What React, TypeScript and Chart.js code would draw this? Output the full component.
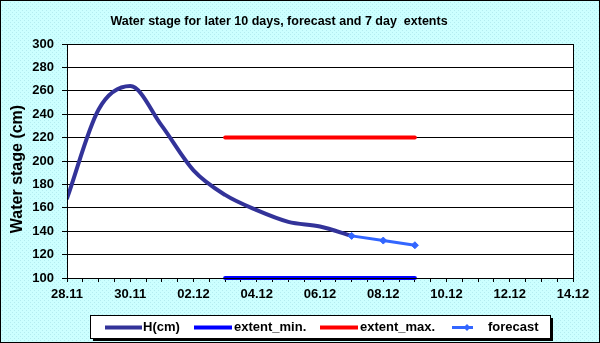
import React, { useEffect, useRef } from "react";
import { Chart, registerables } from "chart.js";

Chart.register(...registerables);

// ---- data ----
const startDate = "28.11";
const xTickLabels = ["28.11", "30.11", "02.12", "04.12", "06.12", "08.12", "10.12", "12.12", "14.12"];
const yTicks = [100, 120, 140, 160, 180, 200, 220, 240, 260, 280, 300];

const hDates = ["28.11", "29.11", "30.11", "01.12", "02.12", "03.12", "04.12", "05.12", "06.12", "07.12"];
const hValues = [168, 244, 264, 230, 192, 171, 158, 148, 144, 136];

const extentDates = ["03.12", "09.12"];
const extentMin = [100, 100];
const extentMax = [220, 220];

const forecastDates = ["07.12", "08.12", "09.12"];
const forecastValues = [136, 132, 128];

const seriesNames = ["H(cm)", "extent_min.", "extent_max.", "forecast"];
const chartTitle = "Water stage for later 10 days, forecast and 7 day  extents";
const yAxisTitle = "Water stage (cm)";

// day offset from start date (year 2010)
function dayIndex(d: string): number {
  const [dd, mm] = d.split(".").map(Number);
  const [sd, sm] = startDate.split(".").map(Number);
  const t = Date.UTC(2010, mm - 1, dd);
  const s = Date.UTC(2010, sm - 1, sd);
  return Math.round((t - s) / 86400000);
}
function pts(dates: string[], vals: number[]) {
  return dates.map((d, i) => ({ x: dayIndex(d), y: vals[i] }));
}

const FONT = "'Liberation Sans', Arial, sans-serif";

function makePattern(ctx: CanvasRenderingContext2D) {
  const c = document.createElement("canvas");
  c.width = 4;
  c.height = 4;
  const g = c.getContext("2d")!;
  g.fillStyle = "#ccffff";
  g.fillRect(0, 0, 4, 4);
  g.fillStyle = "#b4ecf0";
  g.fillRect(0, 0, 1, 1);
  g.fillRect(2, 2, 1, 1);
  return ctx.createPattern(c, "repeat");
}

const decorPlugin = {
  id: "decor",
  beforeDraw(chart: any) {
    const { ctx, width, height, chartArea } = chart;
    ctx.save();
    ctx.fillStyle = makePattern(ctx) || "#ccffff";
    ctx.fillRect(0, 0, width, height);
    ctx.fillStyle = "#ffffff";
    ctx.fillRect(chartArea.left, chartArea.top, chartArea.right - chartArea.left, chartArea.bottom - chartArea.top);
    ctx.restore();
  },
  afterDraw(chart: any) {
    const { ctx, width, height, chartArea } = chart;
    ctx.save();
    // plot border
    ctx.strokeStyle = "#000";
    ctx.lineWidth = 1;
    ctx.strokeRect(
      Math.round(chartArea.left) + 0.5,
      Math.round(chartArea.top) + 0.5,
      Math.round(chartArea.right - chartArea.left),
      Math.round(chartArea.bottom - chartArea.top)
    );
    // outer border
    ctx.strokeRect(0.5, 0.5, width - 1, height - 1);

    // title
    ctx.fillStyle = "#000";
    ctx.font = `bold 12.5px ${FONT}`;
    ctx.textAlign = "center";
    ctx.textBaseline = "middle";
    ctx.fillText(chartTitle, 279, 22);

    // y title
    ctx.save();
    ctx.translate(18, 169);
    ctx.rotate(-Math.PI / 2);
    ctx.font = `bold 16px ${FONT}`;
    ctx.fillText(yAxisTitle, 0, 0);
    ctx.restore();

    // legend
    const bx = 90, by = 315, bw = 460, bh = 23;
    ctx.fillStyle = "#000";
    ctx.fillRect(bx + 3, by + 3, bw, bh);
    ctx.fillStyle = "#fff";
    ctx.fillRect(bx, by, bw, bh);
    ctx.strokeStyle = "#000";
    ctx.strokeRect(bx + 0.5, by + 0.5, bw, bh);
    const ly = 327.5;
    const items = [
      { x0: 105, x1: 142, tx: 143 },
      { x0: 194, x1: 232, tx: 234 },
      { x0: 320, x1: 358, tx: 360 },
      { x0: 452, x1: 473, tx: 488, marker: 467 },
    ];
    chart.data.datasets.forEach((ds: any, i: number) => {
      const it = items[i];
      ctx.strokeStyle = ds.borderColor;
      ctx.lineWidth = ds.borderWidth;
      ctx.lineCap = "butt";
      ctx.beginPath();
      ctx.moveTo(it.x0, ly);
      ctx.lineTo(it.x1, ly);
      ctx.stroke();
      if (it.marker) {
        ctx.fillStyle = ds.pointBackgroundColor;
        ctx.beginPath();
        const r = 3.5;
        ctx.moveTo(it.marker, ly - r);
        ctx.lineTo(it.marker + r, ly);
        ctx.lineTo(it.marker, ly + r);
        ctx.lineTo(it.marker - r, ly);
        ctx.closePath();
        ctx.fill();
      }
      ctx.fillStyle = "#000";
      ctx.font = `bold 13px ${FONT}`;
      ctx.textAlign = "left";
      ctx.textBaseline = "middle";
      ctx.fillText(ds.label, it.tx, ly);
    });
    ctx.restore();
  },
};

export default function App() {
  const ref = useRef<HTMLCanvasElement | null>(null);
  useEffect(() => {
    document.body.style.margin = "0";
    const canvas = ref.current!;
    const chart = new Chart(canvas, {
      type: "line",
      data: {
        datasets: [
          {
            label: seriesNames[0],
            data: pts(hDates, hValues),
            borderColor: "#333399",
            borderWidth: 4,
            pointRadius: 0,
            cubicInterpolationMode: "monotone",
            borderCapStyle: "round",
            borderJoinStyle: "round",
            order: 2,
          },
          {
            label: seriesNames[1],
            data: pts(extentDates, extentMin),
            borderColor: "#0000ff",
            borderWidth: 4,
            pointRadius: 0,
            clip: false,
            borderCapStyle: "round",
            order: 3,
          },
          {
            label: seriesNames[2],
            data: pts(extentDates, extentMax),
            borderColor: "#ff0000",
            borderWidth: 4,
            pointRadius: 0,
            borderCapStyle: "round",
            order: 4,
          },
          {
            label: seriesNames[3],
            data: pts(forecastDates, forecastValues),
            borderColor: "#3366ff",
            borderWidth: 3,
            pointStyle: "rectRot",
            pointRadius: 3.5,
            pointBackgroundColor: "#3366ff",
            pointBorderColor: "#3366ff",
            pointBorderWidth: 1,
            tension: 0,
            order: 1,
          },
        ] as any,
      },
      options: {
        animation: false,
        responsive: false,
        devicePixelRatio: 1,
        layout: { padding: { left: 0, top: 44, right: 27, bottom: 0 } },
        plugins: { legend: { display: false }, title: { display: false }, tooltip: { enabled: false } },
        scales: {
          x: {
            type: "linear",
            min: 0,
            max: 16,
            afterFit: (s: any) => { s.height = 65; },
            afterBuildTicks: (s: any) => {
              const t = [];
              for (let v = 0; v <= 32; v++) t.push({ value: v / 2 });
              s.ticks = t;
            },
            ticks: {
              autoSkip: false,
              maxRotation: 0,
              minRotation: 0,
              padding: 5,
              color: "#000",
              font: { family: FONT, size: 13, weight: "bold" },
              callback: (v: any) => {
                const n = Number(v);
                return n % 2 === 0 ? xTickLabels[n / 2] : "";
              },
            },
            grid: { drawOnChartArea: false, drawTicks: true, tickLength: 4, color: "#000" },
            border: { color: "#000", width: 1 },
          },
          y: {
            min: 100,
            max: 300,
            afterFit: (s: any) => { s.width = 67; },
            afterBuildTicks: (s: any) => { s.ticks = yTicks.map((v) => ({ value: v })); },
            ticks: {
              padding: 8,
              color: "#000",
              font: { family: FONT, size: 13, weight: "bold" },
            },
            grid: { color: "#000", tickLength: 5 },
            border: { color: "#000", width: 1 },
          },
        },
      } as any,
      plugins: [decorPlugin],
    });
    return () => chart.destroy();
  }, []);
  return (
    <div style={{ position: "absolute", left: 0, top: 0, width: 600, height: 343 }}>
      <canvas ref={ref} width={600} height={343} />
    </div>
  );
}
